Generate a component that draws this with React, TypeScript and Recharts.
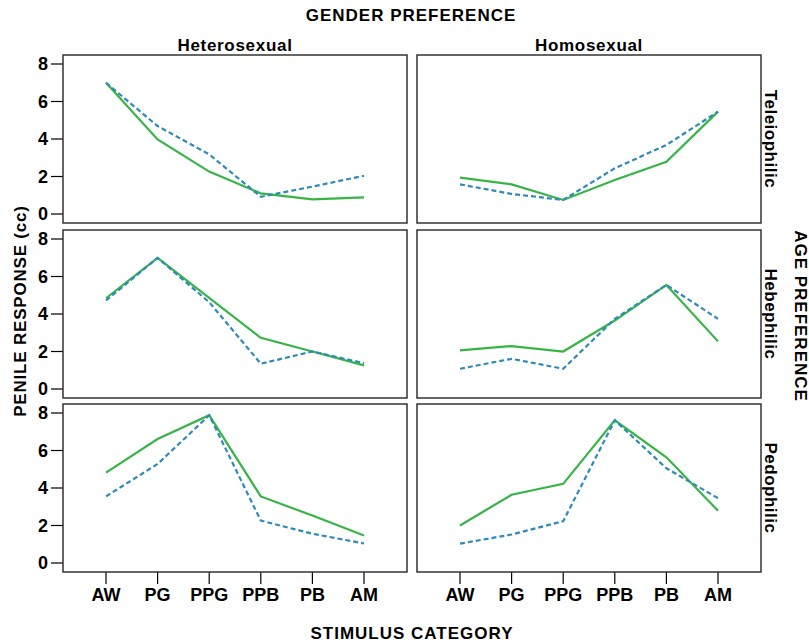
import React from "react";
import { LineChart, Line, XAxis, YAxis } from "recharts";

const categories = ["AW", "PG", "PPG", "PPB", "PB", "AM"];
const yTicks = [0, 2, 4, 6, 8];
const genderCols = ["Heterosexual", "Homosexual"];
const ageRows = ["Teleiophilic", "Hebephilic", "Pedophilic"];

// solid (green) and dashed (blue) series, one array per panel
const teleHetSolid = [7.0, 3.98, 2.26, 1.1, 0.78, 0.89];
const teleHetDashed = [7.0, 4.69, 3.18, 0.92, 1.46, 2.04];
const teleHomSolid = [1.94, 1.58, 0.75, 1.81, 2.79, 5.46];
const teleHomDashed = [1.58, 1.07, 0.75, 2.44, 3.68, 5.46];
const hebeHetSolid = [4.84, 6.99, 4.86, 2.73, 2.0, 1.26];
const hebeHetDashed = [4.72, 6.99, 4.63, 1.35, 2.0, 1.38];
const hebeHomSolid = [2.06, 2.29, 2.0, 3.65, 5.55, 2.54];
const hebeHomDashed = [1.08, 1.61, 1.08, 3.74, 5.55, 3.74];
const pedoHetSolid = [4.82, 6.61, 7.88, 3.55, 2.53, 1.47];
const pedoHetDashed = [3.55, 5.28, 7.88, 2.26, 1.56, 1.04];
const pedoHomSolid = [2.0, 3.64, 4.22, 7.61, 5.64, 2.79];
const pedoHomDashed = [1.03, 1.52, 2.23, 7.61, 5.05, 3.46];

const panelValues = [
  [[teleHetSolid, teleHetDashed], [teleHomSolid, teleHomDashed]],
  [[hebeHetSolid, hebeHetDashed], [hebeHomSolid, hebeHomDashed]],
  [[pedoHetSolid, pedoHetDashed], [pedoHomSolid, pedoHomDashed]],
];

const W = 809;
const H = 644;
const colLeft = [63, 417];
const rowTop = [55, 230, 404];
const panelW = 344;
const panelH = 168;
const font = "'Liberation Sans', Arial, sans-serif";
const GREEN = "#36b546";
const BLUE = "#2e8bb8";

const tickStyle = { fontFamily: font, fontWeight: 700, fontSize: 18, fill: "#000" };

function Panel({ row, col }: { row: number; col: number }) {
  const [solid, dashed] = panelValues[row][col];
  const data = categories.map((c, i) => ({ cat: c, solid: solid[i], dashed: dashed[i] }));
  const showY = col === 0;
  const showX = row === 2;
  const yW = 60;
  const xH = 40;
  const L = colLeft[col];
  const T = rowTop[row];
  const margin = {
    left: showY ? L - yW : L,
    right: W - (L + panelW),
    top: T,
    bottom: H - (T + panelH) - (showX ? xH : 0),
  };
  return (
    <div style={{ position: "absolute", left: 0, top: 0 }}>
      <LineChart width={W} height={H} data={data} margin={margin}>
        <XAxis
          dataKey="cat"
          hide={!showX}
          height={xH}
          padding={{ left: 43, right: 43 }}
          axisLine={false}
          tickLine={{ stroke: "#000", strokeWidth: 1.2 }}
          tickSize={12}
          tickMargin={4}
          tick={tickStyle}
          interval={0}
        />
        <YAxis
          hide={!showY}
          width={yW}
          domain={[-0.48, 8.48]}
          ticks={yTicks}
          allowDataOverflow
          axisLine={false}
          tickLine={{ stroke: "#000", strokeWidth: 1.2 }}
          tickSize={12}
          tickMargin={3}
          tick={tickStyle}
        />
        <Line
          dataKey="solid"
          type="linear"
          stroke={GREEN}
          strokeWidth={2.2}
          dot={false}
          activeDot={false}
          isAnimationActive={false}
        />
        <Line
          dataKey="dashed"
          type="linear"
          stroke={BLUE}
          strokeWidth={2.2}
          strokeDasharray="5 3"
          dot={false}
          activeDot={false}
          isAnimationActive={false}
        />
      </LineChart>
    </div>
  );
}

export default function App() {
  const title = { fontFamily: font, fontWeight: 700, fontSize: 17, fill: "#000" };
  return (
    <div style={{ position: "relative", width: W, height: H, background: "#fff" }}>
      <style>{"body{margin:0}"}</style>
      {ageRows.map((_, r) =>
        genderCols.map((_, c) => <Panel key={`${r}-${c}`} row={r} col={c} />)
      )}
      <svg
        width={W}
        height={H}
        style={{ position: "absolute", left: 0, top: 0, pointerEvents: "none" }}
      >
        {rowTop.map((t) =>
          colLeft.map((l) => (
            <rect
              key={`${t}-${l}`}
              x={l}
              y={t}
              width={panelW}
              height={panelH}
              fill="none"
              stroke="#333"
              strokeWidth={1.5}
            />
          ))
        )}
        <text x={411} y={15} textAnchor="middle" dominantBaseline="central" letterSpacing={1} {...title}>
          GENDER PREFERENCE
        </text>
        {genderCols.map((g, i) => (
          <text
            key={g}
            x={colLeft[i] + panelW / 2}
            y={45}
            textAnchor="middle"
            dominantBaseline="central"
            letterSpacing={0.7}
            {...title}
          >
            {g}
          </text>
        ))}
        {ageRows.map((a, i) => (
          <text
            key={a}
            x={770}
            y={rowTop[i] + panelH / 2}
            textAnchor="middle"
            dominantBaseline="central"
            transform={`rotate(90 770 ${rowTop[i] + panelH / 2})`}
            letterSpacing={0.5}
            {...title}
          >
            {a}
          </text>
        ))}
        <text
          x={800}
          y={316}
          textAnchor="middle"
          dominantBaseline="central"
          transform="rotate(90 800 316)"
          letterSpacing={1}
          {...title}
        >
          AGE PREFERENCE
        </text>
        <text
          x={20}
          y={311}
          textAnchor="middle"
          dominantBaseline="central"
          transform="rotate(-90 20 311)"
          letterSpacing={0.8}
          {...title}
        >
          PENILE RESPONSE (cc)
        </text>
        <text x={412} y={633} textAnchor="middle" dominantBaseline="central" letterSpacing={1} {...title}>
          STIMULUS CATEGORY
        </text>
      </svg>
    </div>
  );
}
